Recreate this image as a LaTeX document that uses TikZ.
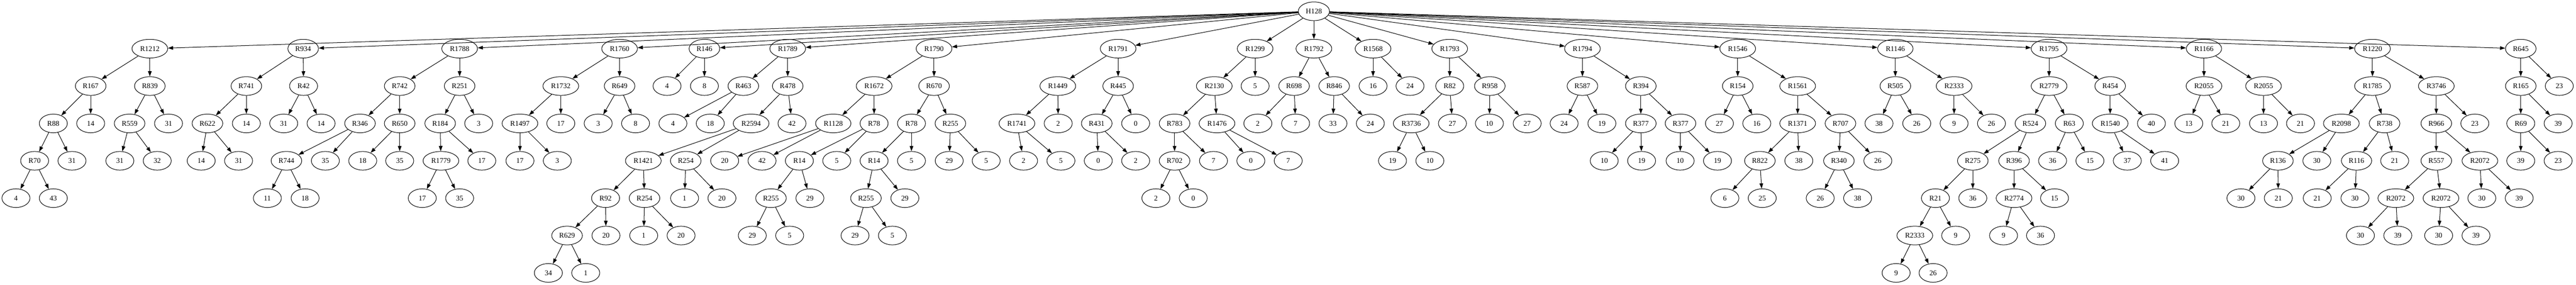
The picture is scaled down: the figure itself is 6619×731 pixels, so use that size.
\documentclass[tikz,border=0pt]{standalone}
\usepackage{fontspec}
\setmainfont{Liberation Serif}
\usepackage{tikz}
\usetikzlibrary{shapes.geometric}
\usetikzlibrary{arrows.meta}

\begin{document}
\begin{tikzpicture}[x=0.75pt, y=-0.75pt, line width=1pt,
	nd/.style={ellipse, draw, minimum width=54pt, minimum height=36pt, inner xsep=5.7pt, inner ysep=2pt, font=\fontsize{14pt}{16pt}\selectfont},
	arrow/.style={-{Triangle[length=10pt,width=7pt]}}]
	\useasboundingbox (0,0) rectangle (6619,731);

	% root
	\node[nd] (h128) at (3376,29) {H128};

	% level 1
	\node[nd] (r1212) at (385,125) {R1212};
	\node[nd] (r934) at (779,125) {R934};
	\node[nd] (r1788) at (1181,125) {R1788};
	\node[nd] (r1760) at (1592,125) {R1760};
	\node[nd] (r146) at (1810,125) {R146};
	\node[nd] (r1789) at (2024,125) {R1789};
	\node[nd] (r1790) at (2400,125) {R1790};
	\node[nd] (r1791) at (2873,125) {R1791};
	\node[nd] (r1299) at (3225,125) {R1299};
	\node[nd] (r1792) at (3376,125) {R1792};
	\node[nd] (r1568) at (3528,125) {R1568};
	\node[nd] (r1793) at (3725,125) {R1793};
	\node[nd] (r1794) at (4066,125) {R1794};
	\node[nd] (r1546) at (4465,125) {R1546};
	\node[nd] (r1146) at (4870,125) {R1146};
	\node[nd] (r1795) at (5265,125) {R1795};
	\node[nd] (r1166) at (5663,125) {R1166};
	\node[nd] (r1220) at (6096,125) {R1220};
	\node[nd] (r645) at (6477,125) {R645};

	% level 2
	\node[nd] (r167) at (233,221) {R167};
	\node[nd] (r839) at (385,221) {R839};
	\node[nd] (r741) at (633,221) {R741};
	\node[nd] (r42) at (780,221) {R42};
	\node[nd] (r742) at (1027,221) {R742};
	\node[nd] (r251) at (1181,221) {R251};
	\node[nd] (r1732) at (1441,221) {R1732};
	\node[nd] (r649) at (1592,221) {R649};
	\node[nd] (r146l) at (1714,221) {4};
	\node[nd] (r146r) at (1810,221) {8};
	\node[nd] (r463) at (1910,221) {R463};
	\node[nd] (r478) at (2024,221) {R478};
	\node[nd] (r1672) at (2246,221) {R1672};
	\node[nd] (r670) at (2400,221) {R670};
	\node[nd] (r1449) at (2718,221) {R1449};
	\node[nd] (r445) at (2873,221) {R445};
	\node[nd] (r2130) at (3120,221) {R2130};
	\node[nd] (r1299r) at (3225,221) {5};
	\node[nd] (r698) at (3325,221) {R698};
	\node[nd] (r846) at (3428,221) {R846};
	\node[nd] (r1568l) at (3528,221) {16};
	\node[nd] (r1568r) at (3623,221) {24};
	\node[nd] (r82) at (3725,221) {R82};
	\node[nd] (r958) at (3828,221) {R958};
	\node[nd] (r587) at (4066,221) {R587};
	\node[nd] (r394) at (4216,221) {R394};
	\node[nd] (r154) at (4465,221) {R154};
	\node[nd] (r1561) at (4619,221) {R1561};
	\node[nd] (r505) at (4870,221) {R505};
	\node[nd] (r2333a) at (5021,221) {R2333};
	\node[nd] (r2779) at (5265,221) {R2779};
	\node[nd] (r454) at (5422,221) {R454};
	\node[nd] (r2055a) at (5663,221) {R2055};
	\node[nd] (r2055b) at (5816,221) {R2055};
	\node[nd] (r1785) at (6096,221) {R1785};
	\node[nd] (r3746) at (6260,221) {R3746};
	\node[nd] (r165) at (6477,221) {R165};
	\node[nd] (r645r) at (6576,221) {23};

	% level 3
	\node[nd] (r88) at (137,317) {R88};
	\node[nd] (r167r) at (233,317) {14};
	\node[nd] (r559) at (333,317) {R559};
	\node[nd] (r839r) at (433,317) {31};
	\node[nd] (r622) at (533,317) {R622};
	\node[nd] (r741r) at (633,317) {14};
	\node[nd] (r42l) at (729,317) {31};
	\node[nd] (r42r) at (825,317) {14};
	\node[nd] (r346) at (925,317) {R346};
	\node[nd] (r650) at (1027,317) {R650};
	\node[nd] (r184) at (1131,317) {R184};
	\node[nd] (r251r) at (1230,317) {3};
	\node[nd] (r1497) at (1336,317) {R1497};
	\node[nd] (r1732r) at (1441,317) {17};
	\node[nd] (r649l) at (1537,317) {3};
	\node[nd] (r649r) at (1633,317) {8};
	\node[nd] (r463l) at (1729,317) {4};
	\node[nd] (r463r) at (1825,317) {18};
	\node[nd] (r2594) at (1930,317) {R2594};
	\node[nd] (r478r) at (2035,317) {42};
	\node[nd] (r1128) at (2141,317) {R1128};
	\node[nd] (r78a) at (2246,317) {R78};
	\node[nd] (r78b) at (2342,317) {R78};
	\node[nd] (r255c) at (2442,317) {R255};
	\node[nd] (r1741) at (2613,317) {R1741};
	\node[nd] (r1449r) at (2719,317) {2};
	\node[nd] (r431) at (2818,317) {R431};
	\node[nd] (r445r) at (2918,317) {0};
	\node[nd] (r783) at (3018,317) {R783};
	\node[nd] (r1476) at (3127,317) {R1476};
	\node[nd] (r698l) at (3232,317) {2};
	\node[nd] (r698r) at (3329,317) {7};
	\node[nd] (r846l) at (3425,317) {33};
	\node[nd] (r846r) at (3521,317) {24};
	\node[nd] (r3736) at (3626,317) {R3736};
	\node[nd] (r82r) at (3732,317) {27};
	\node[nd] (r958l) at (3827,317) {10};
	\node[nd] (r958r) at (3924,317) {27};
	\node[nd] (r587l) at (4019,317) {24};
	\node[nd] (r587r) at (4116,317) {19};
	\node[nd] (r377a) at (4216,317) {R377};
	\node[nd] (r377b) at (4318,317) {R377};
	\node[nd] (r154l) at (4418,317) {27};
	\node[nd] (r154r) at (4514,317) {16};
	\node[nd] (r1371) at (4619,317) {R1371};
	\node[nd] (r707) at (4729,317) {R707};
	\node[nd] (r505l) at (4828,317) {38};
	\node[nd] (r505r) at (4925,317) {26};
	\node[nd] (r2333al) at (5021,317) {9};
	\node[nd] (r2333ar) at (5117,317) {26};
	\node[nd] (r524) at (5217,317) {R524};
	\node[nd] (r63) at (5317,317) {R63};
	\node[nd] (r1540) at (5422,317) {R1540};
	\node[nd] (r454r) at (5528,317) {40};
	\node[nd] (r2055al) at (5624,317) {13};
	\node[nd] (r2055ar) at (5719,317) {21};
	\node[nd] (r2055bl) at (5816,317) {13};
	\node[nd] (r2055br) at (5911,317) {21};
	\node[nd] (r2098) at (6016,317) {R2098};
	\node[nd] (r738) at (6127,317) {R738};
	\node[nd] (r966) at (6260,317) {R966};
	\node[nd] (r3746r) at (6359,317) {23};
	\node[nd] (r69) at (6477,317) {R69};
	\node[nd] (r165r) at (6573,317) {39};

	% level 4
	\node[nd] (r70) at (89,413) {R70};
	\node[nd] (r88r) at (185,413) {31};
	\node[nd] (r559l) at (308,413) {31};
	\node[nd] (r559r) at (404,413) {32};
	\node[nd] (r622l) at (517,413) {14};
	\node[nd] (r622r) at (613,413) {31};
	\node[nd] (r744) at (736,413) {R744};
	\node[nd] (r346r) at (836,413) {35};
	\node[nd] (r650l) at (932,413) {18};
	\node[nd] (r650r) at (1027,413) {35};
	\node[nd] (r1779) at (1133,413) {R1779};
	\node[nd] (r184r) at (1238,413) {17};
	\node[nd] (r1497l) at (1336,413) {17};
	\node[nd] (r1497r) at (1432,413) {3};
	\node[nd] (r1421) at (1653,413) {R1421};
	\node[nd] (r254b) at (1762,413) {R254};
	\node[nd] (r1128l) at (1862,413) {20};
	\node[nd] (r1128r) at (1958,413) {42};
	\node[nd] (r14a) at (2054,413) {R14};
	\node[nd] (r78ar) at (2150,413) {5};
	\node[nd] (r14b) at (2246,413) {R14};
	\node[nd] (r78br) at (2342,413) {5};
	\node[nd] (r255cl) at (2439,413) {29};
	\node[nd] (r255cr) at (2534,413) {5};
	\node[nd] (r1741l) at (2630,413) {2};
	\node[nd] (r1741r) at (2726,413) {5};
	\node[nd] (r431l) at (2822,413) {0};
	\node[nd] (r431r) at (2918,413) {2};
	\node[nd] (r702) at (3018,413) {R702};
	\node[nd] (r783r) at (3118,413) {7};
	\node[nd] (r1476l) at (3214,413) {0};
	\node[nd] (r1476r) at (3310,413) {7};
	\node[nd] (r3736l) at (3578,413) {19};
	\node[nd] (r3736r) at (3674,413) {10};
	\node[nd] (r377al) at (4122,413) {10};
	\node[nd] (r377ar) at (4218,413) {19};
	\node[nd] (r377bl) at (4317,413) {10};
	\node[nd] (r377br) at (4413,413) {19};
	\node[nd] (r822) at (4522,413) {R822};
	\node[nd] (r1371r) at (4622,413) {38};
	\node[nd] (r340) at (4725,413) {R340};
	\node[nd] (r707r) at (4825,413) {26};
	\node[nd] (r275) at (5069,413) {R275};
	\node[nd] (r396) at (5175,413) {R396};
	\node[nd] (r63l) at (5274,413) {36};
	\node[nd] (r63r) at (5370,413) {15};
	\node[nd] (r1540l) at (5466,413) {37};
	\node[nd] (r1540r) at (5562,413) {41};
	\node[nd] (r136) at (5853,413) {R136};
	\node[nd] (r2098r) at (5953,413) {30};
	\node[nd] (r116) at (6055,413) {R116};
	\node[nd] (r738r) at (6153,413) {21};
	\node[nd] (r557) at (6260,413) {R557};
	\node[nd] (r2072c) at (6372,413) {R2072};
	\node[nd] (r69l) at (6477,413) {39};
	\node[nd] (r69r) at (6573,413) {23};

	% level 5
	\node[nd] (r70l) at (41,509) {4};
	\node[nd] (r70r) at (137,509) {43};
	\node[nd] (r744l) at (687,509) {11};
	\node[nd] (r744r) at (784,509) {18};
	\node[nd] (r1779l) at (1085,509) {17};
	\node[nd] (r1779r) at (1181,509) {35};
	\node[nd] (r92) at (1556,509) {R92};
	\node[nd] (r254a) at (1656,509) {R254};
	\node[nd] (r254bl) at (1759,509) {1};
	\node[nd] (r254br) at (1855,509) {20};
	\node[nd] (r255a) at (1981,509) {R255};
	\node[nd] (r14ar) at (2081,509) {29};
	\node[nd] (r255b) at (2225,509) {R255};
	\node[nd] (r14br) at (2325,509) {29};
	\node[nd] (r702l) at (2970,509) {2};
	\node[nd] (r702r) at (3066,509) {0};
	\node[nd] (r822l) at (4432,509) {6};
	\node[nd] (r822r) at (4528,509) {25};
	\node[nd] (r340l) at (4677,509) {26};
	\node[nd] (r340r) at (4773,509) {38};
	\node[nd] (r21) at (4973,509) {R21};
	\node[nd] (r275r) at (5069,509) {36};
	\node[nd] (r2774) at (5175,509) {R2774};
	\node[nd] (r396r) at (5279,509) {15};
	\node[nd] (r136l) at (5758,509) {30};
	\node[nd] (r136r) at (5854,509) {21};
	\node[nd] (r116l) at (5954,509) {21};
	\node[nd] (r116r) at (6051,509) {30};
	\node[nd] (r2072a) at (6156,509) {R2072};
	\node[nd] (r2072b) at (6272,509) {R2072};
	\node[nd] (r2072cl) at (6377,509) {30};
	\node[nd] (r2072cr) at (6473,509) {39};

	% level 6
	\node[nd] (r629) at (1457,605) {R629};
	\node[nd] (r92r) at (1557,605) {20};
	\node[nd] (r254al) at (1654,605) {1};
	\node[nd] (r254ar) at (1750,605) {20};
	\node[nd] (r255al) at (1933,605) {29};
	\node[nd] (r255ar) at (2029,605) {5};
	\node[nd] (r255bl) at (2197,605) {29};
	\node[nd] (r255br) at (2293,605) {5};
	\node[nd] (r2333b) at (4920,605) {R2333};
	\node[nd] (r21r) at (5025,605) {9};
	\node[nd] (r2774l) at (5148,605) {9};
	\node[nd] (r2774r) at (5243,605) {36};
	\node[nd] (r2072al) at (6065,605) {30};
	\node[nd] (r2072ar) at (6161,605) {39};
	\node[nd] (r2072bl) at (6266,605) {30};
	\node[nd] (r2072br) at (6362,605) {39};

	% level 7
	\node[nd] (r629l) at (1409,701) {34};
	\node[nd] (r629r) at (1505,701) {1};
	\node[nd] (r2333bl) at (4872,701) {9};
	\node[nd] (r2333br) at (4967,701) {26};

	% edges
	\draw[arrow] (h128) edge (r1212) edge (r934) edge (r1788) edge (r1760) edge (r146) edge (r1789) edge (r1790) edge (r1791) edge (r1299) edge (r1792);
	\draw[arrow] (h128) edge (r1568) edge (r1793) edge (r1794) edge (r1546) edge (r1146) edge (r1795) edge (r1166) edge (r1220) edge (r645);
	\draw[arrow] (r1212) edge (r167) edge (r839);
	\draw[arrow] (r167) edge (r88) edge (r167r);
	\draw[arrow] (r88) edge (r70) edge (r88r);
	\draw[arrow] (r70) edge (r70l) edge (r70r);
	\draw[arrow] (r839) edge (r559) edge (r839r);
	\draw[arrow] (r559) edge (r559l) edge (r559r);
	\draw[arrow] (r934) edge (r741) edge (r42);
	\draw[arrow] (r741) edge (r622) edge (r741r);
	\draw[arrow] (r622) edge (r622l) edge (r622r);
	\draw[arrow] (r42) edge (r42l) edge (r42r);
	\draw[arrow] (r1788) edge (r742) edge (r251);
	\draw[arrow] (r742) edge (r346) edge (r650);
	\draw[arrow] (r346) edge (r744) edge (r346r);
	\draw[arrow] (r744) edge (r744l) edge (r744r);
	\draw[arrow] (r650) edge (r650l) edge (r650r);
	\draw[arrow] (r251) edge (r184) edge (r251r);
	\draw[arrow] (r184) edge (r1779) edge (r184r);
	\draw[arrow] (r1779) edge (r1779l) edge (r1779r);
	\draw[arrow] (r1760) edge (r1732) edge (r649);
	\draw[arrow] (r1732) edge (r1497) edge (r1732r);
	\draw[arrow] (r1497) edge (r1497l) edge (r1497r);
	\draw[arrow] (r649) edge (r649l) edge (r649r);
	\draw[arrow] (r146) edge (r146l) edge (r146r);
	\draw[arrow] (r1789) edge (r463) edge (r478);
	\draw[arrow] (r463) edge (r463l) edge (r463r);
	\draw[arrow] (r478) edge (r2594) edge (r478r);
	\draw[arrow] (r2594) edge (r1421) edge (r254b);
	\draw[arrow] (r1421) edge (r92) edge (r254a);
	\draw[arrow] (r92) edge (r629) edge (r92r);
	\draw[arrow] (r629) edge (r629l) edge (r629r);
	\draw[arrow] (r254a) edge (r254al) edge (r254ar);
	\draw[arrow] (r254b) edge (r254bl) edge (r254br);
	\draw[arrow] (r1790) edge (r1672) edge (r670);
	\draw[arrow] (r1672) edge (r1128) edge (r78a);
	\draw[arrow] (r1128) edge (r1128l) edge (r1128r);
	\draw[arrow] (r78a) edge (r14a) edge (r78ar);
	\draw[arrow] (r14a) edge (r255a) edge (r14ar);
	\draw[arrow] (r255a) edge (r255al) edge (r255ar);
	\draw[arrow] (r670) edge (r78b) edge (r255c);
	\draw[arrow] (r78b) edge (r14b) edge (r78br);
	\draw[arrow] (r14b) edge (r255b) edge (r14br);
	\draw[arrow] (r255b) edge (r255bl) edge (r255br);
	\draw[arrow] (r255c) edge (r255cl) edge (r255cr);
	\draw[arrow] (r1791) edge (r1449) edge (r445);
	\draw[arrow] (r1449) edge (r1741) edge (r1449r);
	\draw[arrow] (r1741) edge (r1741l) edge (r1741r);
	\draw[arrow] (r445) edge (r431) edge (r445r);
	\draw[arrow] (r431) edge (r431l) edge (r431r);
	\draw[arrow] (r1299) edge (r2130) edge (r1299r);
	\draw[arrow] (r2130) edge (r783) edge (r1476);
	\draw[arrow] (r783) edge (r702) edge (r783r);
	\draw[arrow] (r702) edge (r702l) edge (r702r);
	\draw[arrow] (r1476) edge (r1476l) edge (r1476r);
	\draw[arrow] (r1792) edge (r698) edge (r846);
	\draw[arrow] (r698) edge (r698l) edge (r698r);
	\draw[arrow] (r846) edge (r846l) edge (r846r);
	\draw[arrow] (r1568) edge (r1568l) edge (r1568r);
	\draw[arrow] (r1793) edge (r82) edge (r958);
	\draw[arrow] (r82) edge (r3736) edge (r82r);
	\draw[arrow] (r3736) edge (r3736l) edge (r3736r);
	\draw[arrow] (r958) edge (r958l) edge (r958r);
	\draw[arrow] (r1794) edge (r587) edge (r394);
	\draw[arrow] (r587) edge (r587l) edge (r587r);
	\draw[arrow] (r394) edge (r377a) edge (r377b);
	\draw[arrow] (r377a) edge (r377al) edge (r377ar);
	\draw[arrow] (r377b) edge (r377bl) edge (r377br);
	\draw[arrow] (r1546) edge (r154) edge (r1561);
	\draw[arrow] (r154) edge (r154l) edge (r154r);
	\draw[arrow] (r1561) edge (r1371) edge (r707);
	\draw[arrow] (r1371) edge (r822) edge (r1371r);
	\draw[arrow] (r822) edge (r822l) edge (r822r);
	\draw[arrow] (r707) edge (r340) edge (r707r);
	\draw[arrow] (r340) edge (r340l) edge (r340r);
	\draw[arrow] (r1146) edge (r505) edge (r2333a);
	\draw[arrow] (r505) edge (r505l) edge (r505r);
	\draw[arrow] (r2333a) edge (r2333al) edge (r2333ar);
	\draw[arrow] (r1795) edge (r2779) edge (r454);
	\draw[arrow] (r2779) edge (r524) edge (r63);
	\draw[arrow] (r524) edge (r275) edge (r396);
	\draw[arrow] (r275) edge (r21) edge (r275r);
	\draw[arrow] (r21) edge (r2333b) edge (r21r);
	\draw[arrow] (r2333b) edge (r2333bl) edge (r2333br);
	\draw[arrow] (r396) edge (r2774) edge (r396r);
	\draw[arrow] (r2774) edge (r2774l) edge (r2774r);
	\draw[arrow] (r63) edge (r63l) edge (r63r);
	\draw[arrow] (r454) edge (r1540) edge (r454r);
	\draw[arrow] (r1540) edge (r1540l) edge (r1540r);
	\draw[arrow] (r1166) edge (r2055a) edge (r2055b);
	\draw[arrow] (r2055a) edge (r2055al) edge (r2055ar);
	\draw[arrow] (r2055b) edge (r2055bl) edge (r2055br);
	\draw[arrow] (r1220) edge (r1785) edge (r3746);
	\draw[arrow] (r1785) edge (r2098) edge (r738);
	\draw[arrow] (r2098) edge (r136) edge (r2098r);
	\draw[arrow] (r136) edge (r136l) edge (r136r);
	\draw[arrow] (r738) edge (r116) edge (r738r);
	\draw[arrow] (r116) edge (r116l) edge (r116r);
	\draw[arrow] (r3746) edge (r966) edge (r3746r);
	\draw[arrow] (r966) edge (r557) edge (r2072c);
	\draw[arrow] (r557) edge (r2072a) edge (r2072b);
	\draw[arrow] (r2072a) edge (r2072al) edge (r2072ar);
	\draw[arrow] (r2072b) edge (r2072bl) edge (r2072br);
	\draw[arrow] (r2072c) edge (r2072cl) edge (r2072cr);
	\draw[arrow] (r645) edge (r165) edge (r645r);
	\draw[arrow] (r165) edge (r69) edge (r165r);
	\draw[arrow] (r69) edge (r69l) edge (r69r);
\end{tikzpicture}
\end{document}
